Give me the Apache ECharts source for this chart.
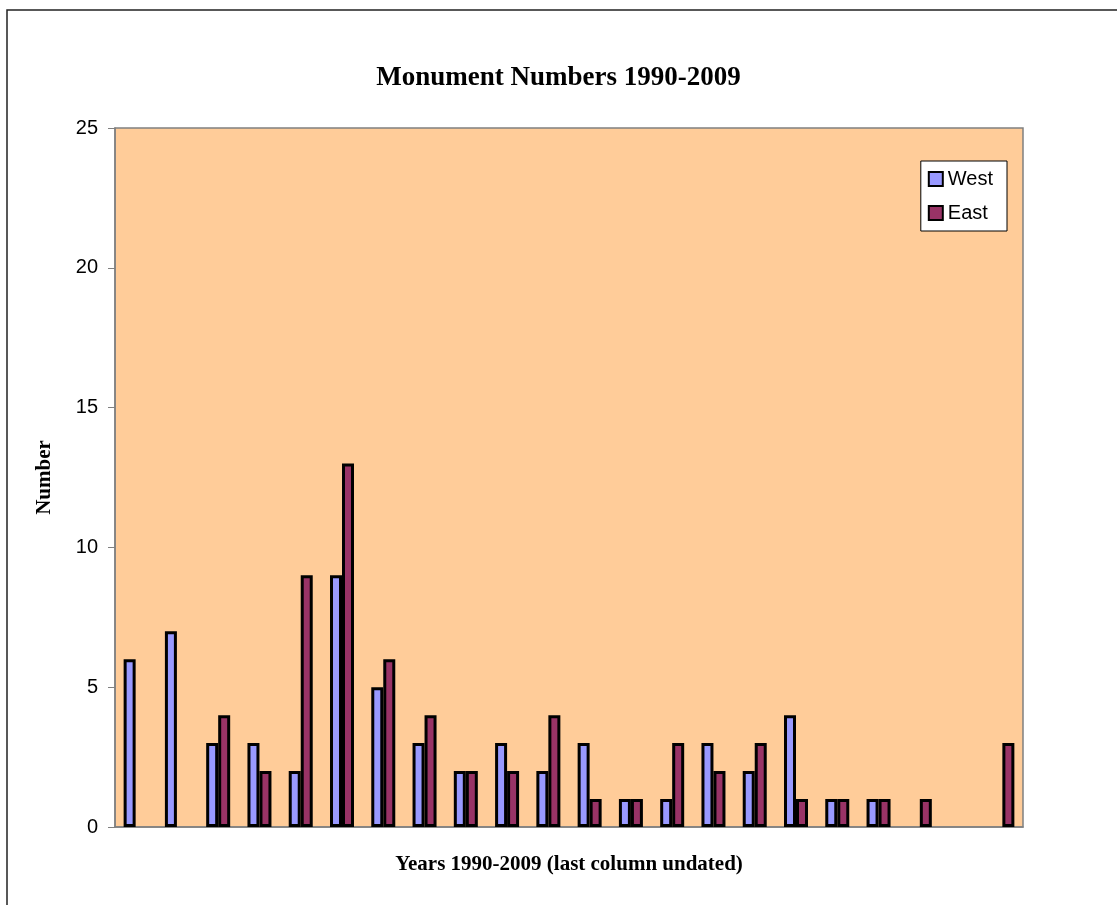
<!DOCTYPE html>
<html>
<head>
<meta charset="utf-8">
<script src="https://cdn.jsdelivr.net/npm/echarts@6/dist/echarts.min.js"></script>
<style>
html,body{margin:0;padding:0;background:#fff;}
#chart{width:1117px;height:905px;}
</style>
</head>
<body>
<div id="chart"></div>
<script>
const categories = ['1990','1991','1992','1993','1994','1995','1996','1997','1998','1999','2000','2001','2002','2003','2004','2005','2006','2007','2008','2009','','Undated'];
const westValues = [6,7,3,3,2,9,5,3,2,3,2,3,1,1,3,2,4,1,1,null,null,null];
const eastValues = [null,null,4,2,9,13,6,4,2,2,4,1,1,3,2,3,1,1,1,1,null,3];
const yTicks = {min:0, max:25, interval:5};

const chart = echarts.init(document.getElementById('chart'), null, {renderer:'canvas'});
const serif = '"Liberation Serif","Times New Roman",serif';
const sans = '"Liberation Sans",Arial,sans-serif';
chart.setOption({
  animation:false,
  backgroundColor:'#ffffff',
  graphic:[{
    type:'rect', shape:{x:7,y:10,width:1200,height:1000},
    style:{fill:'none', stroke:'#222', lineWidth:1.5}, silent:true, z:-1
  }],
  title:{
    text:'Monument Numbers 1990-2009',
    left:'center', top:60,
    textStyle:{fontFamily:serif, fontWeight:'bold', fontSize:27, color:'#000'}
  },
  legend:{
    orient:'vertical', right:110, top:161,
    backgroundColor:'#fff', borderColor:'#000', borderWidth:1,
    padding:[8,14,8,7], itemGap:14, itemWidth:14, itemHeight:14,
    icon:'rect',
    itemStyle:{borderColor:'#000', borderWidth:2},
    textStyle:{fontFamily:sans, fontSize:20, color:'#000'},
    data:['West','East']
  },
  grid:{
    left:115, top:128, right:94, bottom:78,
    show:true, backgroundColor:'#FFCC99', borderColor:'#808080', borderWidth:1.5
  },
  xAxis:{
    type:'category', data:categories,
    name:'Years 1990-2009 (last column undated)',
    nameLocation:'middle', nameGap:27,
    nameTextStyle:{fontFamily:serif, fontWeight:'bold', fontSize:21, color:'#000'},
    axisLine:{lineStyle:{color:'#808080', width:1.5}},
    axisTick:{show:false}, axisLabel:{show:false}, splitLine:{show:false}
  },
  yAxis:{
    type:'value', min:yTicks.min, max:yTicks.max, interval:yTicks.interval,
    name:'Number', nameLocation:'middle', nameGap:60,
    nameTextStyle:{fontFamily:serif, fontWeight:'bold', fontSize:21, color:'#000'},
    axisLine:{show:true, lineStyle:{color:'#808080', width:1.5}},
    axisTick:{show:true, inside:false, length:7, lineStyle:{color:'#808080'}},
    axisLabel:{fontFamily:sans, fontSize:20, color:'#000', margin:17},
    splitLine:{show:false}
  },
  series:[
    {name:'West', type:'bar', data:westValues, barWidth:12, barGap:'0%',
     itemStyle:{color:'#9999FF', borderColor:'#000', borderWidth:3}},
    {name:'East', type:'bar', data:eastValues, barWidth:12, barGap:'0%',
     itemStyle:{color:'#993366', borderColor:'#000', borderWidth:3}}
  ]
});
</script>
</body>
</html>
